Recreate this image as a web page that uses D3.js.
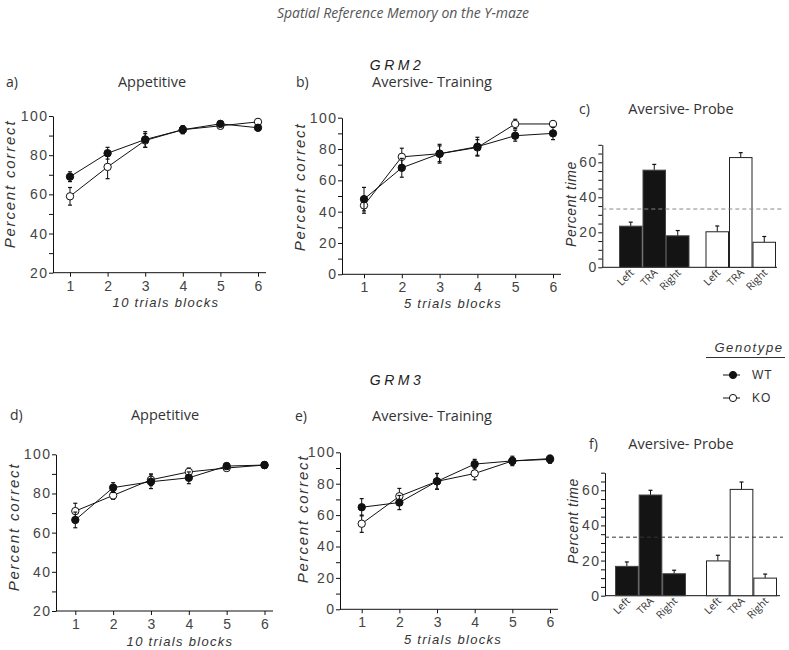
<!DOCTYPE html>
<html><head><meta charset="utf-8">
<script src="https://cdn.jsdelivr.net/npm/d3@7"></script>
<style>
body{margin:0;background:#fff;}
svg{display:block;}
</style></head><body>
<svg id="chart" width="789" height="650"></svg>
<script>
// ---------- data ----------
const blocks = [1, 2, 3, 4, 5, 6];
const genotypes = ["WT", "KO"];
const arms = ["Left", "TRA", "Right"];

// GRM2 appetitive (10 trial blocks)
const grm2AppWT = [69, 81, 88, 93, 96, 94];
const grm2AppWTErr = [2.5, 3, 4, 2, 1.5, 1.5];
const grm2AppKO = [59, 74, 87.5, 93, 95, 97];
const grm2AppKOErr = [4.5, 6, 3.5, 2, 1.5, 1.5];
// GRM2 aversive training (5 trial blocks)
const grm2AvWT = [48, 68, 77, 81.5, 88.5, 90];
const grm2AvWTErr = [7.5, 6, 6, 6, 3.5, 4];
const grm2AvKO = [44, 75, 77, 81, 96, 96];
const grm2AvKOErr = [5, 5.5, 5, 5, 3, 2];
// GRM3 appetitive
const grm3AppWT = [66.5, 83, 86, 88, 94, 94.5];
const grm3AppWTErr = [4, 2.5, 3.5, 3, 1.5, 1.5];
const grm3AppKO = [71, 79, 87, 91, 93, 94.5];
const grm3AppKOErr = [4, 2, 3, 2, 1.5, 1.5];
// GRM3 aversive training
const grm3AvWT = [65, 68, 81.5, 92.5, 94.5, 95.5];
const grm3AvWTErr = [5.5, 4.5, 5, 3, 3, 2.5];
const grm3AvKO = [54.5, 72, 81.5, 86.5, 94.5, 96];
const grm3AvKOErr = [5.5, 5, 5, 4, 2, 2];
// Aversive probe (percent time per arm)
const grm2ProbeWT = [23.5, 55.5, 18];
const grm2ProbeWTErr = [2.3, 3.3, 3];
const grm2ProbeKO = [20.3, 62.7, 14.3];
const grm2ProbeKOErr = [3.3, 2.8, 3.3];
const grm3ProbeWT = [16.7, 57.3, 12.5];
const grm3ProbeWTErr = [2.5, 2.7, 2];
const grm3ProbeKO = [19.8, 60.5, 10];
const grm3ProbeKOErr = [3.2, 4.2, 2.3];
const chanceLevel = 33.3;

// ---------- drawing ----------
const svg = d3.select("#chart");
const NUM_FONT = "'Liberation Sans', Arial, sans-serif";
const HEAD_FONT = "'Open Sans', 'Liberation Sans', sans-serif";

function styleAxis(g, ls) {
  g.attr("font-family", NUM_FONT).attr("font-size", 14);
  g.selectAll(".domain").attr("stroke", "#111").attr("stroke-width", 1);
  g.selectAll(".tick line").attr("stroke", "#111");
  g.selectAll(".tick text").attr("fill", "#444").style("letter-spacing", ls + "px");
}

function yTitle(cx, cy, txt, fs, ls) {
  svg.append("text")
    .attr("transform", `translate(${cx},${cy}) rotate(-90)`)
    .attr("text-anchor", "middle").attr("dominant-baseline", "central")
    .attr("font-family", NUM_FONT).attr("font-style", "italic")
    .attr("font-size", fs).attr("fill", "#333")
    .style("letter-spacing", ls + "px")
    .text(txt);
}

function header(xl, xc, y, label, title) {
  svg.append("text").attr("x", xl).attr("y", y)
    .attr("font-family", HEAD_FONT).attr("font-size", 14).attr("fill", "#333").text(label);
  svg.append("text").attr("x", xc).attr("y", y).attr("text-anchor", "middle")
    .attr("font-family", HEAD_FONT).attr("font-size", 14.5).attr("fill", "#333").text(title);
}

function yAxis(y, left, ticks) {
  const ya = d3.axisLeft(y).tickValues(ticks)
    .tickFormat(d => d % 20 === 0 ? d : "").tickSize(4).tickSizeOuter(0).tickPadding(2);
  const gy = svg.append("g").attr("transform", `translate(${left},0)`).call(ya);
  styleAxis(gy, 1.5);
  gy.selectAll(".tick text").attr("dx", 1.5);
}

function linePanel(o) {
  const x = d3.scaleLinear().domain([1, 6]).range([o.x1, o.x6]);
  const y = d3.scaleLinear().domain([o.ymin, 100]).range([o.bottom, o.top]);

  yAxis(y, o.left, d3.range(o.ymin, 101, 10));

  const xa = d3.axisBottom(x).tickValues(blocks).tickFormat(d3.format("d"))
    .tickSize(4).tickSizeOuter(0).tickPadding(4);
  const gx = svg.append("g").attr("transform", `translate(0,${o.bottom})`).call(xa);
  gx.select(".domain").remove();
  styleAxis(gx, 0);
  svg.append("line").attr("x1", o.left).attr("x2", o.right)
    .attr("y1", o.bottom).attr("y2", o.bottom).attr("stroke", "#111");

  const series = [
    {vals: o.ko, err: o.koErr, fill: "#fff"},
    {vals: o.wt, err: o.wtErr, fill: "#111"}
  ];
  const line = d3.line().x((d, i) => x(blocks[i])).y(d => y(d));
  series.forEach(s => {
    svg.append("path").datum(s.vals).attr("d", line)
      .attr("fill", "none").attr("stroke", "#111").attr("stroke-width", 1);
  });
  series.forEach(s => {
    const g = svg.append("g");
    s.vals.forEach((v, i) => {
      const cx = x(blocks[i]);
      const y0 = y(v - s.err[i]), y1 = y(v + s.err[i]);
      g.append("line").attr("x1", cx).attr("x2", cx).attr("y1", y0).attr("y2", y1).attr("stroke", "#111");
      [y0, y1].forEach(yy => g.append("line").attr("x1", cx - 2).attr("x2", cx + 2)
        .attr("y1", yy).attr("y2", yy).attr("stroke", "#111").attr("stroke-width", 1.2));
    });
    g.selectAll("circle").data(s.vals).join("circle")
      .attr("cx", (d, i) => x(blocks[i])).attr("cy", d => y(d)).attr("r", 3.7)
      .attr("fill", s.fill).attr("stroke", "#111").attr("stroke-width", 1);
  });

  yTitle(o.ytx, o.yty, "Percent correct", 15, 1.8);
  svg.append("text").attr("x", o.xtx).attr("y", o.xty).attr("text-anchor", "middle")
    .attr("font-family", NUM_FONT).attr("font-style", "italic").attr("font-size", 13)
    .attr("fill", "#333").style("letter-spacing", "1.3px").text(o.xtitle);
}

function barPanel(o) {
  const y = d3.scaleLinear().domain([0, 70]).range([o.bottom, o.top]);
  const gx = d3.scaleBand().domain(genotypes).range([o.g0, o.g1]).paddingInner(o.pad).paddingOuter(0);
  const ax = d3.scaleBand().domain(arms).range([0, gx.bandwidth()]).padding(0);

  yAxis(y, o.left, d3.range(0, 71, 5));
  svg.append("line").attr("x1", o.left).attr("x2", o.right)
    .attr("y1", o.bottom).attr("y2", o.bottom).attr("stroke", "#111");

  const groups = [
    {g: "WT", vals: o.wt, err: o.wtErr, fill: "#141414", stroke: "#444"},
    {g: "KO", vals: o.ko, err: o.koErr, fill: "#fff", stroke: "#222"}
  ];
  groups.forEach(s => {
    s.vals.forEach((v, i) => {
      const x0 = gx(s.g) + ax(arms[i]);
      const w = ax.bandwidth();
      const cx = x0 + w / 2;
      const ye = y(v + s.err[i]);
      svg.append("line").attr("x1", cx).attr("x2", cx).attr("y1", y(v)).attr("y2", ye).attr("stroke", "#111");
      svg.append("line").attr("x1", cx - 2).attr("x2", cx + 2).attr("y1", ye).attr("y2", ye)
        .attr("stroke", "#111").attr("stroke-width", 1.2);
      svg.append("rect").attr("x", x0 + 0.5).attr("y", y(v)).attr("width", w - 1)
        .attr("height", o.bottom - y(v)).attr("fill", s.fill).attr("stroke", s.stroke).attr("stroke-width", 1);
      svg.append("text")
        .attr("transform", `translate(${cx + 4},${o.bottom + 6}) rotate(-45)`)
        .attr("text-anchor", "end").attr("font-family", HEAD_FONT).attr("font-size", 10.5)
        .attr("fill", "#333").text(arms[i]);
    });
  });
  svg.append("line").attr("x1", o.left).attr("x2", o.dashEnd)
    .attr("y1", y(chanceLevel)).attr("y2", y(chanceLevel))
    .attr("stroke", o.dashColor).attr("stroke-width", 1).attr("stroke-dasharray", "4,3");
  yTitle(o.ytx, o.yty, "Percent time", 14, 0.6);
}

// titles
svg.append("text").attr("x", 403).attr("y", 18).attr("text-anchor", "middle")
  .attr("font-family", HEAD_FONT).attr("font-style", "italic").attr("font-size", 14)
  .attr("fill", "#555").text("Spatial Reference Memory on the Y-maze");
[["GRM2", 70], ["GRM3", 385]].forEach(([t, yy]) => {
  svg.append("text").attr("x", 397).attr("y", yy).attr("text-anchor", "middle")
    .attr("font-family", NUM_FONT).attr("font-style", "italic").attr("font-size", 14)
    .attr("fill", "#222").style("letter-spacing", "3.5px").text(t);
});

// panel headers
header(6, 152, 87, "a)", "Appetitive");
header(296, 432, 87, "b)", "Aversive- Training");
header(579, 681, 114, "c)", "Aversive- Probe");
header(10, 165, 420, "d)", "Appetitive");
header(295, 432, 421, "e)", "Aversive- Training");
header(589, 681, 449, "f)", "Aversive- Probe");

// panels
linePanel({left: 53, right: 266, x1: 70, x6: 258, top: 116, bottom: 272.7, ymin: 20,
  wt: grm2AppWT, wtErr: grm2AppWTErr, ko: grm2AppKO, koErr: grm2AppKOErr,
  ytx: 9, yty: 184, xtx: 166, xty: 306.5, xtitle: "10 trials blocks"});
linePanel({left: 342, right: 561, x1: 364, x6: 553, top: 117.7, bottom: 274.3, ymin: 0,
  wt: grm2AvWT, wtErr: grm2AvWTErr, ko: grm2AvKO, koErr: grm2AvKOErr,
  ytx: 299, yty: 187, xtx: 453, xty: 308, xtitle: "5 trials blocks"});
barPanel({left: 602.3, right: 777, top: 144.8, bottom: 267.3, g0: 619, g1: 776, pad: 0.185,
  wt: grm2ProbeWT, wtErr: grm2ProbeWTErr, ko: grm2ProbeKO, koErr: grm2ProbeKOErr,
  dashEnd: 782, dashColor: "#888", ytx: 571, yty: 204});
linePanel({left: 56, right: 273, x1: 75.3, x6: 264.5, top: 454.3, bottom: 611, ymin: 20,
  wt: grm3AppWT, wtErr: grm3AppWTErr, ko: grm3AppKO, koErr: grm3AppKOErr,
  ytx: 13, yty: 527, xtx: 180, xty: 645.5, xtitle: "10 trials blocks"});
linePanel({left: 340, right: 558, x1: 361.7, x6: 550, top: 452.3, bottom: 609.3, ymin: 0,
  wt: grm3AvWT, wtErr: grm3AvWTErr, ko: grm3AvKO, koErr: grm3AvKOErr,
  ytx: 302, yty: 519, xtx: 453, xty: 643.5, xtitle: "5 trials blocks"});
barPanel({left: 605, right: 780, top: 472.7, bottom: 595.7, g0: 615, g1: 777, pad: 0.22,
  wt: grm3ProbeWT, wtErr: grm3ProbeWTErr, ko: grm3ProbeKO, koErr: grm3ProbeKOErr,
  dashEnd: 783, dashColor: "#333", ytx: 573, yty: 521});

// legend
svg.append("text").attr("x", 749).attr("y", 352).attr("text-anchor", "middle")
  .attr("font-family", NUM_FONT).attr("font-style", "italic").attr("font-size", 13)
  .attr("fill", "#333").style("letter-spacing", "1.6px").text("Genotype");
svg.append("line").attr("x1", 706).attr("x2", 785).attr("y1", 357.5).attr("y2", 357.5).attr("stroke", "#333");
const legendRows = [{g: "WT", fill: "#111", y: 375}, {g: "KO", fill: "#fff", y: 398}];
legendRows.forEach(r => {
  svg.append("line").attr("x1", 723).attr("x2", 740).attr("y1", r.y).attr("y2", r.y).attr("stroke", "#111");
  svg.append("circle").attr("cx", 733).attr("cy", r.y).attr("r", 3.6)
    .attr("fill", r.fill).attr("stroke", "#111");
  svg.append("text").attr("x", 752).attr("y", r.y).attr("dominant-baseline", "central")
    .attr("font-family", NUM_FONT).attr("font-size", 12).attr("fill", "#333")
    .style("letter-spacing", "1px").text(r.g);
});
</script>
</body></html>
